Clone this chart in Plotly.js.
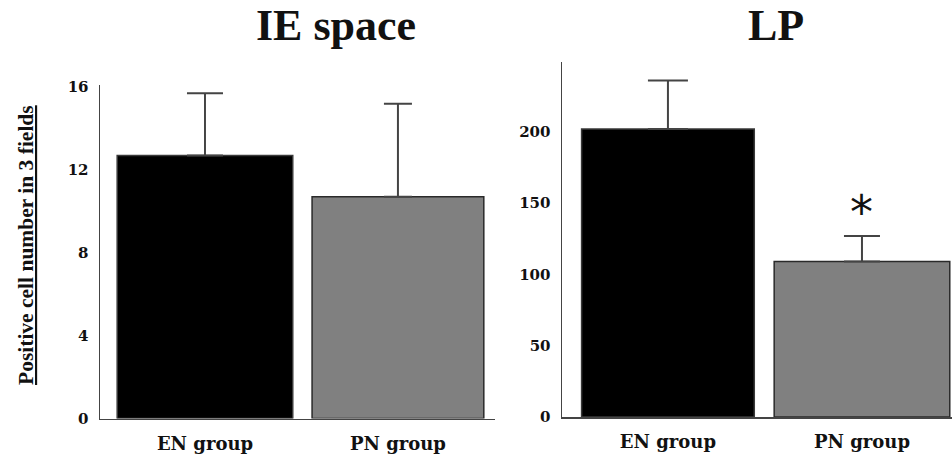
<!DOCTYPE html>
<html>
<head>
<meta charset="utf-8">
<script src="https://cdn.plot.ly/plotly-3.0.1.min.js"></script>
<style>
  html, body { margin: 0; padding: 0; background: #fff; }
  #chart { width: 952px; height: 456px; }
</style>
</head>
<body>
<div id="chart"></div>
<script>
// Groups and measurements (mean, upper SD) for the two regions
const categories = ['EN group', 'PN group'];
const ieMeans = [12.7, 10.7];
const ieSD = [3.0, 4.5];
const lpMeans = [202, 109];
const lpSD = [34, 18];
const ieTicks = [0, 4, 8, 12, 16];
const lpTicks = [0, 50, 100, 150, 200];
const panelTitles = ['IE space', 'LP'];
const yTitle = 'Positive cell number in 3 fields';
const sigMark = '*';

const barFill = ['#000000', '#808080'];
const barLine = ['#3a3a3a', '#2a2a2a'];

function barTrace(i, means, sd, xa, ya, w, cap) {
  return {
    type: 'bar',
    x: [categories[i]],
    y: [means[i]],
    width: [w],
    xaxis: xa,
    yaxis: ya,
    marker: { color: barFill[i], line: { color: barLine[i], width: 1.5 } },
    error_y: {
      type: 'data', symmetric: false,
      array: [sd[i]], arrayminus: [0],
      color: '#444', thickness: 2, width: cap
    },
    hoverinfo: 'skip',
    showlegend: false
  };
}

const traces = [
  barTrace(0, ieMeans, ieSD, 'x', 'y', 0.91, 18),
  barTrace(1, ieMeans, ieSD, 'x', 'y', 0.89, 14),
  barTrace(0, lpMeans, lpSD, 'x2', 'y2', 0.89, 20),
  barTrace(1, lpMeans, lpSD, 'x2', 'y2', 0.905, 18)
];

const tickFont = { family: 'DejaVu Serif', size: 15, color: '#111', weight: 'bold' };
const catFont = { family: 'DejaVu Serif', size: 18, color: '#111', weight: 'bold' };

const xCommon = {
  type: 'category', showline: true, linecolor: '#444', linewidth: 1.5,
  ticks: '', showgrid: false, zeroline: false, tickfont: catFont,
  ticklabelstandoff: 8, fixedrange: true
};
const yCommon = {
  showline: true, linecolor: '#444', linewidth: 1.5,
  ticks: '', showgrid: false, zeroline: false, tickfont: tickFont,
  ticklabelstandoff: 7, fixedrange: true
};

const layout = {
  width: 952, height: 456,
  margin: { l: 0, r: 0, t: 0, b: 0 },
  paper_bgcolor: '#fff', plot_bgcolor: '#fff',
  barmode: 'overlay',
  xaxis: Object.assign({}, xCommon, { domain: [100 / 952, 495 / 952], range: [-0.544, 1.503], anchor: 'y' }),
  yaxis: Object.assign({}, yCommon, { domain: [37.5 / 456, 371 / 456], range: [0, 16.1], tickvals: ieTicks, anchor: 'x' }),
  xaxis2: Object.assign({}, xCommon, { domain: [562 / 952, 1], range: [-0.546, 1.464], anchor: 'y2' }),
  yaxis2: Object.assign({}, yCommon, { domain: [39 / 456, 394 / 456], range: [0, 249], tickvals: lpTicks, anchor: 'x2' }),
  annotations: [
    { text: panelTitles[0], xref: 'paper', yref: 'paper', x: 336 / 952, y: (456 - 26) / 456,
      xanchor: 'center', yanchor: 'middle', showarrow: false,
      font: { family: 'Liberation Serif', size: 44, color: '#111', weight: 'bold' } },
    { text: panelTitles[1], xref: 'paper', yref: 'paper', x: 776 / 952, y: (456 - 26) / 456,
      xanchor: 'center', yanchor: 'middle', showarrow: false,
      font: { family: 'Liberation Serif', size: 44, color: '#111', weight: 'bold' } },
    { text: '<u>' + yTitle + '</u>', xref: 'paper', yref: 'paper', x: 26 / 952, y: (456 - 245) / 456,
      xanchor: 'center', yanchor: 'middle', textangle: -90, showarrow: false,
      font: { family: 'Liberation Serif', size: 21.5, color: '#111', weight: 'bold' } },
    { text: sigMark, xref: 'x2', yref: 'paper', x: categories[1], y: (456 - 207) / 456,
      xanchor: 'center', yanchor: 'middle', yshift: -5, showarrow: false,
      font: { family: 'DejaVu Sans', size: 46, color: '#111' } }
  ]
};

Plotly.newPlot('chart', traces, layout, { staticPlot: true, displayModeBar: false });
</script>
</body>
</html>
